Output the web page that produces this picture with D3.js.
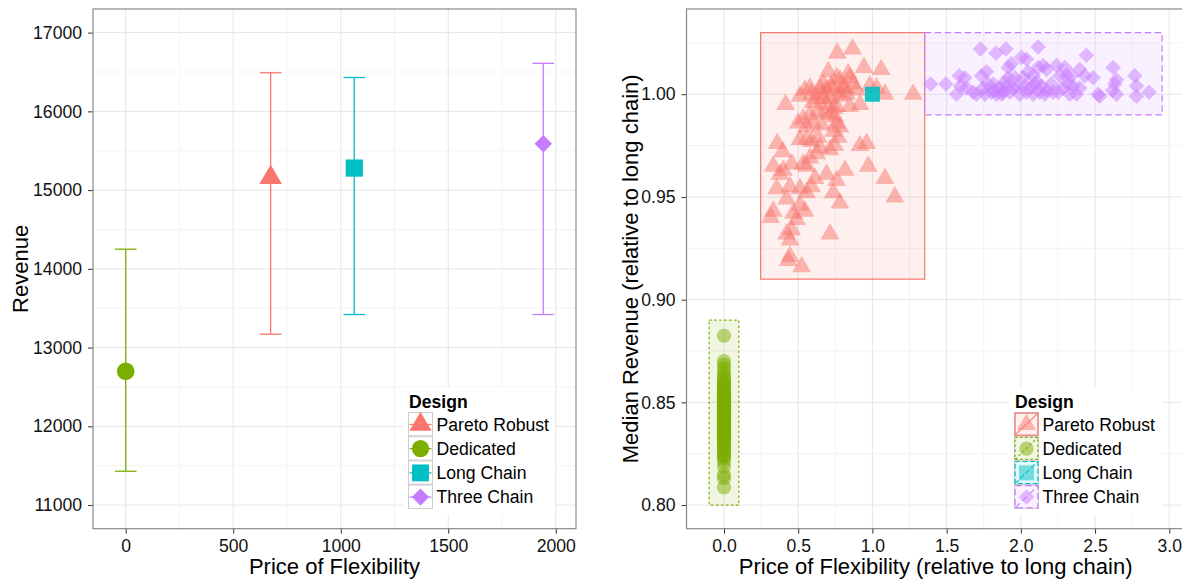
<!DOCTYPE html>
<html>
<head>
<meta charset="utf-8">
<script src="https://cdnjs.cloudflare.com/ajax/libs/d3/7.8.5/d3.min.js"></script>
<style>
  html, body { margin: 0; padding: 0; background: #fff; }
  svg { display: block; font-family: "Liberation Sans", Arial, Helvetica, sans-serif; }
</style>
</head>
<body>
<svg id="chart" width="1182" height="579"></svg>
<script>
// ---- Designs -------------------------------------------------------------
const designs = ["Pareto Robust", "Dedicated", "Long Chain", "Three Chain"];
const designColors = ["#F8766D", "#7CAE00", "#00BFC4", "#C77CFF"];
const designShapes = ["triangle", "circle", "square", "diamond"];
const designDash = [null, "2.5,2.5", "5,2.5", "6.5,3.5"];

// ---- Left panel: revenue vs. price of flexibility -------------------------
const priceOfFlexibility = [674, 0, 1063, 1942];
const revenueMid = [15160, 12700, 15280, 15590];
const revenueLow = [13170, 11430, 13420, 13420];
const revenueHigh = [16490, 14250, 16430, 16610];
const errorHalfWidth = 50;
const priceTicks = [0, 500, 1000, 1500, 2000];
const revenueTicks = [11000, 12000, 13000, 14000, 15000, 16000, 17000];
const revenueLimits = [11000, 17000];

// ---- Right panel: relative to long chain ----------------------------------
const relPriceTicks = [0, 0.5, 1, 1.5, 2, 2.5, 3];
const relRevenueTicks = [0.80, 0.85, 0.90, 0.95, 1.00];
const boxXMin = [0.247, -0.1, 1, 1.352];
const boxXMax = [1.352, 0.1, 1, 2.952];
const boxYMin = [0.91, 0.80, 1, 0.99];
const boxYMax = [1.03, 0.89, 1, 1.03];

const paretoRobustRuns = [
  [0.763,1.020],[0.866,1.022],[0.943,1.013],[1.059,1.012],[1.275,1.000],
  [0.702,1.011],[0.759,1.008],[0.837,1.010],[0.848,1.008],[0.781,1.007],
  [0.669,1.005],[0.579,1.003],[0.545,1.002],[0.512,0.999],[0.590,1.000],
  [0.646,1.003],[0.691,1.002],[0.736,1.003],[0.803,1.003],[0.871,1.005],
  [0.893,1.002],[0.826,1.000],[0.781,0.999],[0.714,0.998],[0.669,0.998],
  [0.624,0.998],[0.983,1.004],[1.028,1.003],[1.084,1.000],[0.916,0.995],
  [0.848,0.994],[0.759,0.994],[0.680,0.991],[0.635,0.992],[0.579,0.990],
  [0.534,0.988],[0.500,0.986],[0.557,0.984],[0.601,0.986],[0.658,0.985],
  [0.714,0.990],[0.747,0.989],[0.759,0.986],[0.736,0.982],[0.781,0.984],
  [0.770,0.979],[0.747,0.975],[0.714,0.973],[0.512,0.978],[0.557,0.978],
  [0.590,0.977],[0.635,0.979],[0.646,0.974],[0.624,0.971],[0.579,0.969],
  [0.534,0.966],[0.557,0.965],[0.415,0.995],[0.359,0.976],[0.395,0.972],
  [0.456,0.966],[0.332,0.965],[0.400,0.963],[0.377,0.961],[0.613,0.959],
  [0.691,0.961],[0.815,0.963],[0.759,0.958],[0.916,0.975],[0.961,0.976],
  [0.972,0.965],[1.084,0.959],[1.151,0.950],[0.355,0.954],[0.444,0.955],
  [0.512,0.954],[0.557,0.952],[0.590,0.955],[0.736,0.952],[0.781,0.947],
  [0.332,0.943],[0.422,0.949],[0.512,0.946],[0.467,0.942],[0.545,0.943],
  [0.314,0.940],[0.489,0.939],[0.456,0.934],[0.422,0.932],[0.444,0.929],
  [0.714,0.932],[0.444,0.921],[0.523,0.916],[0.433,0.919],
  [0.720,1.004],[0.780,1.001],[0.820,1.003],[0.690,0.995],[0.740,0.993],
  [0.600,0.996],[0.660,1.000]
];

const dedicatedRuns = [
  0.8824, 0.8701, 0.8683, 0.8665, 0.8648, 0.8634, 0.8621, 0.8610, 0.8601, 0.8593,
  0.8586, 0.8578, 0.8571, 0.8567, 0.8560, 0.8556, 0.8549, 0.8545, 0.8539, 0.8535,
  0.8531, 0.8525, 0.8522, 0.8516, 0.8513, 0.8507, 0.8504, 0.8498, 0.8495, 0.8491,
  0.8485, 0.8482, 0.8476, 0.8473, 0.8467, 0.8464, 0.8458, 0.8455, 0.8451, 0.8445,
  0.8442, 0.8436, 0.8433, 0.8427, 0.8424, 0.8420, 0.8413, 0.8411, 0.8404, 0.8401,
  0.8395, 0.8392, 0.8386, 0.8383, 0.8377, 0.8374, 0.8367, 0.8365, 0.8358, 0.8355,
  0.8348, 0.8345, 0.8338, 0.8335, 0.8328, 0.8325, 0.8317, 0.8313, 0.8305, 0.8301,
  0.8292, 0.8287, 0.8278, 0.8272, 0.8262, 0.8255, 0.8244, 0.8237, 0.8229, 0.8212,
  0.8188, 0.8147, 0.8131, 0.8086
];

const longChainRuns = [[1.0, 1.0]];

const threeChainRuns = [
  [1.392,1.005],[1.495,1.005],[1.567,1.000],[1.585,1.009],[1.623,1.008],[1.594,1.004],
  [1.679,1.001],[1.728,1.022],[1.832,1.020],[1.899,1.022],[2.117,1.023],[2.442,1.019],
  [1.735,1.009],[1.769,1.011],[1.780,1.005],[1.746,1.003],[1.814,1.005],[1.859,1.003],
  [1.892,1.006],[1.915,1.013],[1.937,1.015],[1.881,1.001],[1.926,1.001],[1.971,1.004],
  [2.005,1.018],[2.038,1.017],[2.049,1.011],[2.083,1.009],[2.117,1.013],[2.150,1.014],
  [2.173,1.012],[2.016,1.008],[1.993,1.000],[2.038,1.001],[2.083,1.000],[2.128,1.001],
  [2.173,1.002],[2.206,1.005],[2.218,1.001],[2.240,1.014],[2.263,1.009],[2.296,1.013],
  [2.308,1.009],[2.341,1.009],[2.352,1.004],[2.397,1.003],[2.397,1.012],[2.431,1.009],
  [2.487,1.008],[2.521,1.000],[2.532,0.999],[2.622,1.013],[2.633,1.005],[2.644,1.007],
  [2.617,1.002],[2.644,1.000],[2.768,1.009],[2.779,1.004],[2.779,0.999],[2.864,1.001],
  [1.634,1.003],[1.701,1.000],[1.758,1.000],[1.803,1.001],[1.836,1.000],[1.870,1.000],
  [1.903,1.004],[1.948,1.003],[1.825,1.002],[1.915,1.008],[1.960,1.008],[2.027,1.004],
  [2.061,1.003],[2.094,1.005],[2.106,1.006],[2.139,1.004],[2.162,1.000],[2.251,1.001],
  [2.285,1.003],[2.319,1.005],[2.375,1.000],[2.330,1.000]
];

// ---- Helpers ---------------------------------------------------------------
const svg = d3.select("#chart");
const FONT_TICK = 17.6, FONT_TITLE = 22;

function expand(lo, hi, f = 0.05) { const d = (hi - lo) * f; return [lo - d, hi + d]; }

function symbolPath(shape, s) {
  switch (shape) {
    case "triangle": { const h = s * Math.sqrt(3) / 2;
      return `M0,${-2 * h / 3}L${s / 2},${h / 3}L${-s / 2},${h / 3}Z`; }
    case "circle": { const r = s / 2;
      return `M${r},0A${r},${r} 0 1,1 ${-r},0A${r},${r} 0 1,1 ${r},0Z`; }
    case "square": { const a = s / 2;
      return `M${-a},${-a}H${a}V${a}H${-a}Z`; }
    case "diamond": { const a = s / 2;
      return `M0,${-a}L${a},0L0,${a}L${-a},0Z`; }
  }
}

function minorBreaks(ticks, domain) {
  const step = ticks[1] - ticks[0], out = [];
  for (let i = -1; i < ticks.length; i++) {
    const m = ticks[0] + step * (i + 0.5);
    if (m >= domain[0] && m <= domain[1]) out.push(m);
  }
  return out;
}

function drawPanel(p, x, y, xt, yt, xfmt, yfmt, xTitle, yTitle, yTitleX) {
  const g = svg.append("g");
  g.append("rect").attr("x", p.x0).attr("y", p.y0)
    .attr("width", p.x1 - p.x0).attr("height", p.y1 - p.y0).attr("fill", "#fff");

  const grid = g.append("g");
  minorBreaks(xt, x.domain()).forEach(v => grid.append("line")
    .attr("x1", x(v)).attr("x2", x(v)).attr("y1", p.y0).attr("y2", p.y1)
    .attr("stroke", "#f3f3f3").attr("stroke-width", 1));
  minorBreaks(yt, y.domain()).forEach(v => grid.append("line")
    .attr("y1", y(v)).attr("y2", y(v)).attr("x1", p.x0).attr("x2", p.x1)
    .attr("stroke", "#f3f3f3").attr("stroke-width", 1));
  xt.forEach(v => grid.append("line")
    .attr("x1", x(v)).attr("x2", x(v)).attr("y1", p.y0).attr("y2", p.y1)
    .attr("stroke", "#e5e5e5").attr("stroke-width", 1));
  yt.forEach(v => grid.append("line")
    .attr("y1", y(v)).attr("y2", y(v)).attr("x1", p.x0).attr("x2", p.x1)
    .attr("stroke", "#e5e5e5").attr("stroke-width", 1));

  const ax = svg.append("g").attr("transform", `translate(0,${p.y1})`)
    .call(d3.axisBottom(x).tickValues(xt).tickSize(5).tickPadding(5.5).tickFormat(xfmt));
  const ay = svg.append("g").attr("transform", `translate(${p.x0},0)`)
    .call(d3.axisLeft(y).tickValues(yt).tickSize(5).tickPadding(6).tickFormat(yfmt));
  [ax, ay].forEach(a => {
    a.select(".domain").remove();
    a.selectAll(".tick line").attr("stroke", "#333").attr("stroke-width", 1);
    a.selectAll(".tick text").attr("fill", "#111")
      .style("font-size", FONT_TICK + "px")
      .style("font-family", '"Liberation Sans", Arial, sans-serif');
  });

  svg.append("text").attr("x", (p.x0 + Math.min(p.x1, 1184.8)) / 2).attr("y", 574)
    .attr("text-anchor", "middle").style("font-size", FONT_TITLE + "px").attr("fill", "#000")
    .text(xTitle);
  svg.append("text")
    .attr("transform", `translate(${yTitleX},${(p.y0 + p.y1) / 2}) rotate(-90)`)
    .attr("dy", "0.36em").attr("text-anchor", "middle")
    .style("font-size", FONT_TITLE + "px").attr("fill", "#000")
    .text(yTitle);
  return g;
}

function drawBorder(p) {
  svg.append("rect").attr("x", p.x0).attr("y", p.y0)
    .attr("width", p.x1 - p.x0).attr("height", p.y1 - p.y0)
    .attr("fill", "none").attr("stroke", "#808080").attr("stroke-width", 1.1);
}

// ---- Left panel ------------------------------------------------------------
const leftP = { x0: 93, x1: 576, y0: 9, y1: 528.7 };
const xL = d3.scaleLinear()
  .domain(expand(d3.min(priceOfFlexibility) - errorHalfWidth, d3.max(priceOfFlexibility) + errorHalfWidth))
  .range([leftP.x0, leftP.x1]);
const yL = d3.scaleLinear().domain(expand(revenueLimits[0], revenueLimits[1]))
  .range([leftP.y1, leftP.y0]);

const gL = drawPanel(leftP, xL, yL, priceTicks, revenueTicks, d3.format("d"), d3.format("d"),
  "Price of Flexibility", "Revenue", 20);

const leftSizes = { triangle: 22.5, circle: 17.6, square: 17.2, diamond: 17.5 };

designs.forEach((d, i) => {
  const c = designColors[i], xc = xL(priceOfFlexibility[i]);
  const eb = gL.append("g").attr("stroke", c).attr("stroke-width", 1.3).attr("fill", "none");
  eb.append("line").attr("x1", xc).attr("x2", xc)
    .attr("y1", yL(revenueLow[i])).attr("y2", yL(revenueHigh[i]));
  [revenueLow[i], revenueHigh[i]].forEach(v => eb.append("line")
    .attr("x1", xL(priceOfFlexibility[i] - errorHalfWidth))
    .attr("x2", xL(priceOfFlexibility[i] + errorHalfWidth))
    .attr("y1", yL(v)).attr("y2", yL(v)));
  gL.append("path")
    .attr("d", symbolPath(designShapes[i], leftSizes[designShapes[i]]))
    .attr("transform", `translate(${xc},${yL(revenueMid[i])})`)
    .attr("fill", c);
});
drawBorder(leftP);

// ---- Right panel -----------------------------------------------------------
const rightP = { x0: 686.5, x1: 1184.8, y0: 9, y1: 528.7 };
const xR = d3.scaleLinear().domain(expand(d3.min(boxXMin), d3.max(boxXMax)))
  .range([rightP.x0, rightP.x1]);
const yR = d3.scaleLinear().domain(expand(d3.min(boxYMin), d3.max(boxYMax)))
  .range([rightP.y1, rightP.y0]);

const gR = drawPanel(rightP, xR, yR, relPriceTicks, relRevenueTicks, d3.format(".1f"), d3.format(".2f"),
  "Price of Flexibility (relative to long chain)", "Median Revenue (relative to long chain)", 630);

// range boxes
designs.forEach((d, i) => {
  gR.append("rect")
    .attr("x", xR(boxXMin[i])).attr("y", yR(boxYMax[i]))
    .attr("width", xR(boxXMax[i]) - xR(boxXMin[i]))
    .attr("height", yR(boxYMin[i]) - yR(boxYMax[i]))
    .attr("fill", designColors[i]).attr("fill-opacity", 0.11)
    .attr("stroke", designColors[i]).attr("stroke-width", 1.2)
    .attr("stroke-dasharray", designDash[i]);
});

const rightSizes = { triangle: 19, circle: 14.3, square: 15, diamond: 15.5 };
const runsByDesign = [
  paretoRobustRuns,
  dedicatedRuns.map(v => [0, v]),
  longChainRuns,
  threeChainRuns
];
runsByDesign.forEach((runs, i) => {
  gR.append("g").selectAll("path").data(runs).join("path")
    .attr("d", symbolPath(designShapes[i], rightSizes[designShapes[i]]))
    .attr("transform", r => `translate(${xR(r[0])},${yR(r[1])})`)
    .attr("fill", designColors[i])
    .attr("fill-opacity", i === 2 ? 0.9 : 0.5);
});
drawBorder(rightP);

// ---- Legends ---------------------------------------------------------------
function drawLegend(x0, x1, y0, y1, boxed) {
  const lg = svg.append("g");
  lg.append("rect").attr("x", x0).attr("y", y0).attr("width", x1 - x0).attr("height", y1 - y0)
    .attr("fill", "#fff");
  const kx = x0 + 5.5, ks = 24, step = 24.2, top = 412.5;
  lg.append("text").attr("x", kx + 0.5).attr("y", 407.5)
    .style("font-size", FONT_TICK + "px").style("font-weight", "bold").attr("fill", "#000")
    .text("Design");
  designs.forEach((d, i) => {
    const ky = top + i * step, c = designColors[i];
    const cx = kx + ks / 2, cy = ky + ks / 2;
    lg.append("rect").attr("x", kx).attr("y", ky).attr("width", ks).attr("height", ks - 0.7)
      .attr("fill", "#fff").attr("stroke", "#cccccc").attr("stroke-width", 1);
    if (boxed) {
      lg.append("rect").attr("x", kx + 0.6).attr("y", ky + 0.6).attr("width", ks - 1.2).attr("height", ks - 1.9)
        .attr("fill", c).attr("fill-opacity", 0.11)
        .attr("stroke", c).attr("stroke-width", 1.2).attr("stroke-dasharray", designDash[i]);
      lg.append("line").attr("x1", kx + 0.6).attr("y1", ky + ks - 1.3)
        .attr("x2", kx + ks - 0.6).attr("y2", ky + 0.6)
        .attr("stroke", c).attr("stroke-width", 1.1).attr("stroke-dasharray", designDash[i]);
      lg.append("path").attr("d", symbolPath(designShapes[i], rightSizes[designShapes[i]]))
        .attr("transform", `translate(${cx},${cy})`).attr("fill", c).attr("fill-opacity", 0.5);
    } else {
      lg.append("line").attr("x1", kx + 1).attr("x2", kx + ks - 1).attr("y1", cy).attr("y2", cy)
        .attr("stroke", c).attr("stroke-width", 1.3);
      lg.append("path").attr("d", symbolPath(designShapes[i], leftSizes[designShapes[i]] * 0.98))
        .attr("transform", `translate(${cx},${cy})`).attr("fill", c);
    }
    lg.append("text").attr("x", kx + ks + 4).attr("y", cy).attr("dy", "0.36em")
      .style("font-size", FONT_TICK + "px").attr("fill", "#000").text(d);
  });
}
drawLegend(403, 555, 387.5, 514.5, false);
drawLegend(1009, 1162, 387.5, 514.5, true);
</script>
</body>
</html>
